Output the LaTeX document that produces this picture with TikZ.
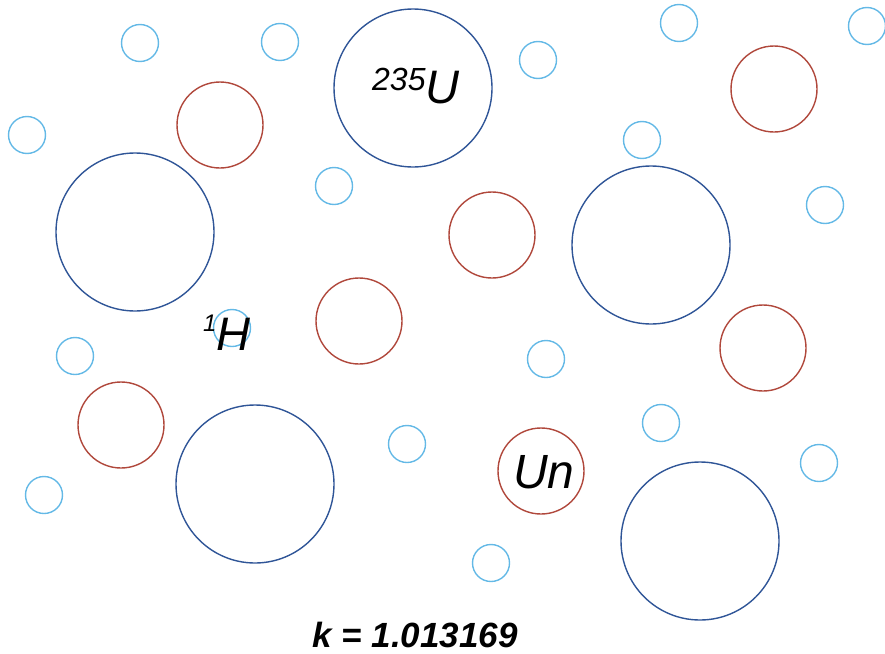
\documentclass[tikz,border=0pt]{standalone}
\usepackage{fontspec}
\setmainfont{Liberation Sans}
\definecolor{heavyblue}{RGB}{47,85,151}
\definecolor{midred}{RGB}{176,72,60}
\definecolor{lightblue}{RGB}{100,185,230}
\tikzset{
  heavy/.style={circle, draw=heavyblue, line width=1.4pt, minimum size=158pt, inner sep=0pt},
  medium/.style={circle, draw=midred, line width=1.4pt, minimum size=86pt, inner sep=0pt},
  light/.style={circle, draw=lightblue, line width=1.4pt, minimum size=37pt, inner sep=0pt},
  label/.style={anchor=base west, inner sep=0pt, font=\itshape}
}
\begin{document}
\begin{tikzpicture}[x=1pt, y=-1pt]
    \useasboundingbox (0,0) rectangle (885,653);

    % heavy nuclei
    \foreach \px/\py [count=\i] in {135/232, 413/88, 651/245, 255/484, 700/541}
        \node[heavy] (heavy\i) at (\px,\py) {};

    % medium nuclei
    \foreach \px/\py [count=\i] in {220/125, 774/89, 492/235, 359/321, 763/348, 121/425, 541/471}
        \node[medium] (medium\i) at (\px,\py) {};

    % light nuclei
    \foreach \px/\py [count=\i] in {140/43, 280/42, 679/23, 867/26, 538/60, 27/135, 642/140,
        334/186, 825/205, 232/328, 75/356, 546/359, 661/423, 407/444, 819/463, 44/495, 491/563}
        \node[light] (light\i) at (\px,\py) {};

    % labels
    \node[label] (uranium) at (372,103)
        {\raisebox{13pt}{\fontsize{32}{32}\selectfont 235}\fontsize{47}{47}\selectfont U};
    \node[label] (hydrogen) at (203,350)
        {\raisebox{19pt}{\fontsize{24}{24}\selectfont 1}\fontsize{47}{47}\selectfont H};
    \node[label] (unknown) at (513,488) {\fontsize{48}{48}\selectfont Un};
    \node[anchor=base, inner sep=0pt, font=\bfseries\itshape] (kvalue) at (415,647)
        {\fontsize{35}{35}\selectfont k = 1.013169};
\end{tikzpicture}
\end{document}
